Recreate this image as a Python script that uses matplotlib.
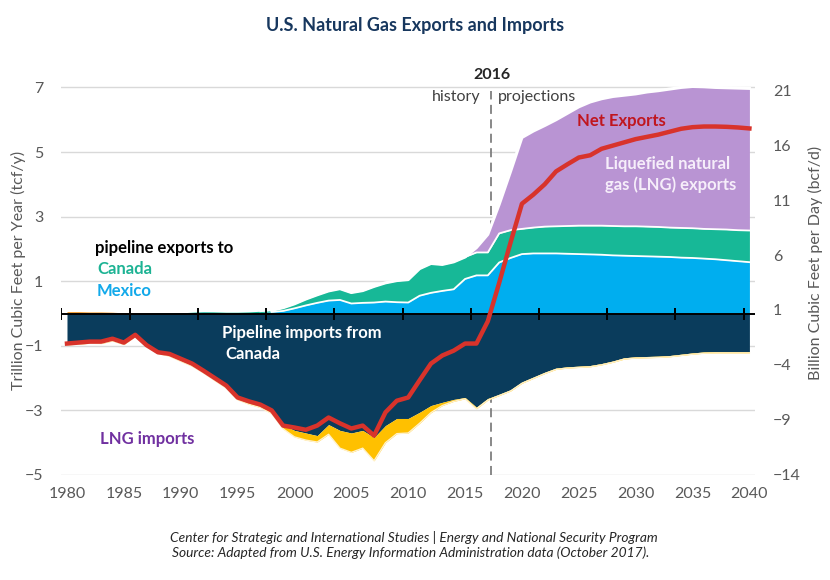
import matplotlib.pyplot as plt
import numpy as np

plt.rcParams['font.family'] = ['Lato', 'DejaVu Sans']

# years (categories)
years = list(range(1980, 2041))

# pipeline exports to Mexico (tcf/y)
mexico = [0, 0, 0, 0, 0, 0, 0, 0, 0.01, 0.01,
          0.02, 0.03, 0.04, 0.03, 0.02, 0.02, 0.02, 0.03, 0.05, 0.08,
          0.16, 0.25, 0.33, 0.40, 0.42, 0.31, 0.33, 0.34, 0.37, 0.35,
          0.34, 0.55, 0.64, 0.70, 0.75, 1.07, 1.18, 1.18, 1.58, 1.72,
          1.84, 1.86, 1.86, 1.86, 1.85, 1.84, 1.83, 1.82, 1.80, 1.79,
          1.78, 1.77, 1.76, 1.75, 1.73, 1.72, 1.70, 1.68, 1.65, 1.62,
          1.59]

# pipeline exports to Canada
canada = [0, 0, 0, 0, 0, 0, 0, 0, 0, 0,
          0, 0.01, 0.02, 0.02, 0.02, 0.02, 0.03, 0.04, 0.05, 0.10,
          0.14, 0.20, 0.25, 0.30, 0.35, 0.34, 0.38, 0.50, 0.58, 0.67,
          0.71, 0.84, 0.91, 0.82, 0.85, 0.68, 0.71, 0.71, 0.90, 0.86,
          0.78, 0.80, 0.83, 0.84, 0.86, 0.88, 0.89, 0.90, 0.91, 0.91,
          0.92, 0.92, 0.92, 0.91, 0.92, 0.92, 0.92, 0.93, 0.95, 0.96,
          0.98]

# old Alaska LNG exports (orange sliver)
alaska_lng = [0.06, 0.06, 0.05, 0.05, 0.04, 0.02] + [0] * 55

# LNG exports
lng_exports = [0] * 36 + [0.15, 0.56, 0.90, 1.82,
                          2.83, 2.99, 3.13, 3.30, 3.49, 3.68, 3.83, 3.93, 4.01, 4.06,
                          4.10, 4.17, 4.22, 4.29, 4.35, 4.39, 4.40, 4.39, 4.39, 4.40,
                          4.40]

# pipeline imports from Canada (negative)
pipe_imports = [-0.95, -0.93, -0.90, -0.90, -0.82, -0.93, -0.70, -1.00, -1.22, -1.28,
                -1.42, -1.58, -1.80, -2.03, -2.26, -2.62, -2.75, -2.85, -3.04, -3.45,
                -3.62, -3.70, -3.78, -3.44, -3.62, -3.70, -3.62, -3.84, -3.47, -3.25,
                -3.25, -3.06, -2.85, -2.75, -2.66, -2.60, -2.90, -2.63, -2.50, -2.36,
                -2.12, -1.97, -1.82, -1.69, -1.65, -1.63, -1.61, -1.55, -1.47, -1.37,
                -1.34, -1.33, -1.32, -1.30, -1.26, -1.22, -1.19, -1.18, -1.18, -1.18,
                -1.18]

# LNG imports (negative)
lng_imports = [-0.02, -0.02, -0.02, -0.03, -0.03, -0.03, -0.01, -0.01, -0.02, -0.04,
               -0.06, -0.05, -0.04, -0.05, -0.05, -0.05, -0.06, -0.06, -0.06, -0.12,
               -0.20, -0.22, -0.20, -0.30, -0.55, -0.60, -0.55, -0.72, -0.53, -0.47,
               -0.45, -0.34, -0.22, -0.10, -0.06, -0.04, -0.05, -0.05, -0.04, -0.04] + [-0.04] * 21

# net exports
net_exports = [-0.93, -0.90, -0.87, -0.87, -0.78, -0.90, -0.66, -0.98, -1.20, -1.25,
               -1.40, -1.55, -1.77, -2.00, -2.23, -2.60, -2.72, -2.82, -3.00, -3.47,
               -3.53, -3.60, -3.47, -3.22, -3.40, -3.56, -3.47, -3.78, -3.06, -2.70,
               -2.60, -2.07, -1.55, -1.30, -1.15, -0.93, -0.93, -0.24, 0.95, 2.20,
               3.40, 3.68, 4.00, 4.40, 4.62, 4.83, 4.90, 5.10, 5.20, 5.30,
               5.40, 5.47, 5.54, 5.63, 5.72, 5.77, 5.79, 5.79, 5.78, 5.76,
               5.73]

left_ticks = [-5, -3, -1, 1, 3, 5, 7]
right_ticks = [21, 16, 11, 6, 1, -4, -9, -14]
label_years = [1980, 1985, 1990, 1995, 2000, 2005, 2010, 2015, 2020, 2025, 2030, 2035, 2040]

W, H = 830, 580
def fx(x):
    return x / W
def fy(y):
    return 1 - y / H

fig = plt.figure(figsize=(8.3, 5.8), dpi=100)
ax = fig.add_axes([fx(61.3), fy(475), (755.1 - 61.3) / W, (475 - 84.2) / H])

yr = np.array(years)
a = np.array(alaska_lng)
mex_top = a + np.array(mexico)
can_top = mex_top + np.array(canada)
lng_top = can_top + np.array(lng_exports)
navy_bot = np.array(pipe_imports)
gold_bot = navy_bot + np.array(lng_imports)

ax.fill_between(yr, 0, a, color='#EE9A2E', lw=0, zorder=1)
ax.fill_between(yr, a, mex_top, color='#00AEEF', lw=0, zorder=1)
ax.fill_between(yr, mex_top, can_top, color='#17B897', lw=0, zorder=1)
ax.fill_between(yr, can_top, lng_top, color='#B994D3', lw=0, zorder=1)
ax.fill_between(yr, 0, navy_bot, color='#0A3C5C', lw=0, zorder=1)
ax.fill_between(yr, navy_bot, gold_bot, color='#FFC000', lw=0, zorder=1)

# white edges between the export layers
ax.plot(yr, np.where(np.array(mexico) > 0.03, mex_top, np.nan), color='white', lw=1.3, zorder=2)
ax.plot(yr, np.where(np.array(canada) > 0.03, can_top, np.nan), color='white', lw=1.3, zorder=2)
ax.plot(yr, np.where(lng_top > 0.08, lng_top, np.nan), color='white', lw=2.2, zorder=2)
ax.plot(yr, gold_bot, color='#FFF2CC', lw=1.0, zorder=2)

# 2016 divider
ax.plot([2017.3, 2017.3], [-5, 6.9], color='#7F7F7F', lw=1.3, ls=(0, (5, 3)), zorder=0.8)

# zero line with category ticks
ax.axhline(0, color='black', lw=1.4, zorder=5)
tick_pos = [1979.5 + 6 * k for k in range(11)]
ax.plot(tick_pos, [0] * len(tick_pos), ls='none', marker='|', ms=8, mew=1.4, color='black', zorder=5)

ax.plot(yr, net_exports, color='#D8332B', lw=3.2, zorder=6, solid_joinstyle='round')

ax.set_xlim(1979.5, 2040.5)
ax.set_ylim(-5, 7.1)
ax.set_xticks(label_years)
ax.set_yticks(left_ticks)
ax.tick_params(axis='x', length=0, pad=9, labelsize=11.5, labelcolor='#595959')
ax.tick_params(axis='y', length=0, pad=13, labelsize=11.5, labelcolor='#595959')
ax.yaxis.grid(True, color='#D9D9D9', lw=1)
ax.set_axisbelow(True)
for s in ax.spines.values():
    s.set_visible(False)
ax.patch.set_alpha(0)

ax2 = ax.twinx()
ax2.set_ylim(-14.09, 21.62)
ax2.set_yticks(right_ticks)
ax2.tick_params(axis='y', length=0, pad=13, labelsize=11.5, labelcolor='#595959')
for s in ax2.spines.values():
    s.set_visible(False)

# titles and labels
fig.text(fx(415), fy(25), 'U.S. Natural Gas Exports and Imports', ha='center', va='center',
         fontsize=13, fontweight='bold', color='#17375E')
fig.text(fx(18), fy(270), 'Trillion Cubic Feet per Year (tcf/y)', rotation=90,
         ha='center', va='center', fontsize=11.5, color='#595959')
fig.text(fx(815), fy(263), 'Billion Cubic Feet per Day (bcf/d)', rotation=90,
         ha='center', va='center', fontsize=11.5, color='#595959')

fig.text(fx(492), fy(75), '2016', ha='center', va='center', fontsize=11.5, fontweight='bold', color='#262626')
fig.text(fx(480), fy(97), 'history', ha='right', va='center', fontsize=11.5, color='#404040')
fig.text(fx(498), fy(97), 'projections', ha='left', va='center', fontsize=11.5, color='#404040')

lab = dict(ha='left', va='center', fontsize=12, fontweight='bold')
fig.text(fx(95), fy(248), 'pipeline exports to', color='black', **lab)
fig.text(fx(97), fy(269), 'Canada', color='#1DB394', **lab)
fig.text(fx(97), fy(291), 'Mexico', color='#12A9EA', **lab)
fig.text(fx(222), fy(333), 'Pipeline imports from', color='white', **lab)
fig.text(fx(225), fy(354), 'Canada', color='white', **lab)
fig.text(fx(100), fy(439), 'LNG imports', color='#7030A0', **lab)
fig.text(fx(577), fy(121), 'Net Exports', color='#C0161E', **lab)
fig.text(fx(605), fy(164), 'Liquefied natural', color='#F6EEFA', **lab)
fig.text(fx(605), fy(185), 'gas (LNG) exports', color='#F6EEFA', **lab)

fig.text(fx(414), fy(537), 'Center for Strategic and International Studies | Energy and National Security Program',
         ha='center', va='center', fontsize=9.9, style='italic', color='#262626')
fig.text(fx(411), fy(553), 'Source: Adapted from U.S. Energy Information Administration data (October 2017).',
         ha='center', va='center', fontsize=9.9, style='italic', color='#262626')

fig.savefig('out.png', dpi=100)
